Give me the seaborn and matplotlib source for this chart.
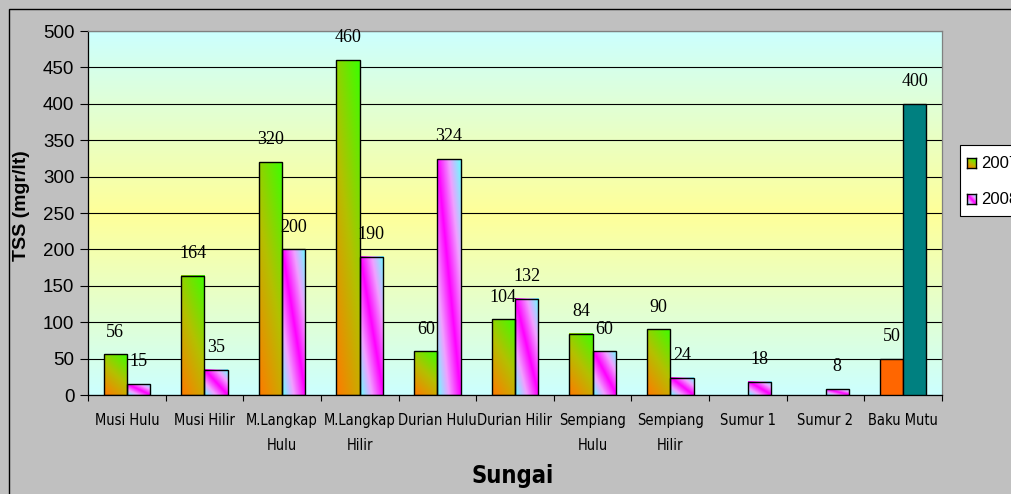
import numpy as np
import pandas as pd
import matplotlib
matplotlib.use("Agg")
import matplotlib.pyplot as plt
import seaborn as sns
from matplotlib import font_manager
from matplotlib.colors import LinearSegmentedColormap
from matplotlib.patches import Rectangle

# ---- data -------------------------------------------------------------
categories = ["Musi Hulu", "Musi Hilir", "M.Langkap\nHulu", "M.Langkap\nHilir",
              "Durian Hulu", "Durian Hilir", "Sempiang\nHulu", "Sempiang\nHilir",
              "Sumur 1", "Sumur 2", "Baku Mutu"]
tss_2007 = [56, 164, 320, 460, 60, 104, 84, 90, np.nan, np.nan, 50]
tss_2008 = [15, 35, 200, 190, 324, 132, 60, 24, 18, 8, 400]
years = ["2007", "2008"]
y_ticks = list(range(0, 501, 50))
standard_label = "Baku Mutu"

df = pd.DataFrame({
    "Sungai": categories * 2,
    "Tahun": [years[0]] * len(categories) + [years[1]] * len(categories),
    "TSS": tss_2007 + tss_2008,
})

# ---- style ------------------------------------------------------------
sns.set_style("white")
plt.rcParams["font.family"] = ["Liberation Sans", "DejaVu Sans"]
plt.rcParams["text.color"] = "black"
plt.rcParams["xtick.color"] = "black"
plt.rcParams["ytick.color"] = "black"
plt.rcParams["xtick.labelcolor"] = "black"
plt.rcParams["ytick.labelcolor"] = "black"
SERIF = ["Liberation Serif", "DejaVu Serif"]

# pick a condensed sans face for the category labels
installed = {(f.name, f.stretch) for f in font_manager.fontManager.ttflist}
names = {n for n, _ in installed}
if "Liberation Sans Narrow" in names:
    NARROW = dict(family=["Liberation Sans Narrow", "DejaVu Sans"])
    tick_fs, title_fs = 11.5, 18.5
elif any(n == "DejaVu Sans" and s in ("condensed", "semi-condensed", 75, 87.5)
         for n, s in installed):
    NARROW = dict(family=["DejaVu Sans"], fontstretch="condensed")
    tick_fs, title_fs = 10.5, 17
else:
    NARROW = dict(family=["Liberation Sans", "DejaVu Sans"])
    tick_fs, title_fs = 9.8, 15.5

W, H = 1012, 494
fig = plt.figure(figsize=(W / 100, H / 100), dpi=100, facecolor="#c0c0c0")
ax = fig.add_axes([88 / W, 1 - 395 / H, (942 - 88) / W, (395 - 31) / H])

sns.barplot(data=df, x="Sungai", y="TSS", hue="Tahun", order=categories,
            hue_order=years, width=0.6, ax=ax, legend=False,
            edgecolor="black", linewidth=1.0, saturation=1)

# plot-area background: cyan -> pale yellow -> cyan
bg_cmap = LinearSegmentedColormap.from_list("bg", ["#ccffff", "#ffff99", "#ccffff"])
ax.imshow(np.linspace(0, 1, 256).reshape(-1, 1), cmap=bg_cmap, origin="lower",
          extent=[0, 1, 0, 1], transform=ax.transAxes, aspect="auto", zorder=0)

# bar fill gradients
warm = LinearSegmentedColormap.from_list("warm", ["#ff7a00", "#b4c000", "#3cff00"])
pink = LinearSegmentedColormap.from_list("pink", ["#ff00ff", "#f0a0ff", "#66ffff"])


def gradient_rgb(kind, nx=40, ny=200):
    u = np.linspace(0, 1, nx)[None, :]
    v = np.linspace(0, 1, ny)[:, None]
    if kind == 0:
        t = 0.35 * u + 0.65 * v
        return warm(t)
    d = np.clip(np.abs(u + v - 1.0), 0, 1)
    return pink(d)


solid = {0: "#ff6600", 1: "#008080"}
std_idx = categories.index(standard_label)

for k, container in enumerate(ax.containers):
    for bar in container:
        h = bar.get_height()
        if h is None or np.isnan(h) or h <= 0:
            continue
        x0, w = bar.get_x(), bar.get_width()
        cx = x0 + w / 2
        cat = int(round(cx))
        bar.set_zorder(3)
        if cat == std_idx:
            bar.set_facecolor(solid[k])
        else:
            bar.set_facecolor("none")
            ax.imshow(gradient_rgb(k), origin="lower", extent=[x0, x0 + w, 0, h],
                      aspect="auto", zorder=2, interpolation="bilinear")
        ax.annotate(f"{int(h)}", (cx, h), xytext=(0, 16), textcoords="offset points",
                    ha="center", va="center", fontsize=13, family=SERIF,
                    color="black", annotation_clip=False, zorder=5)

# axes, grid, ticks
ax.set_xlim(-0.5, len(categories) - 0.5)
ax.set_ylim(0, 500)
ax.set_axisbelow(True)
ax.yaxis.grid(True, color="black", linewidth=0.8)
ax.xaxis.grid(False)
ax.set_yticks(y_ticks)
ax.set_yticklabels([str(t) for t in y_ticks], fontsize=13.5)
ax.tick_params(axis="y", direction="out", length=5.8, width=0.8, color="black", pad=4, left=True)
ax.set_xticks(range(len(categories)))
ax.set_xticklabels(categories, fontsize=tick_fs, linespacing=1.8, **NARROW)
ax.tick_params(axis="x", which="major", length=0, pad=13, bottom=True)
ax.set_xticks(np.arange(-0.5, len(categories), 1), minor=True)
ax.tick_params(axis="x", which="minor", direction="out", length=4, width=0.8, color="black", bottom=True)
ax.set_xlabel("")
ax.set_ylabel("")
for side in ("left", "bottom"):
    ax.spines[side].set_color("black")
    ax.spines[side].set_linewidth(0.9)
for side in ("top", "right"):
    ax.spines[side].set_color("#808080")
    ax.spines[side].set_linewidth(0.9)
    ax.spines[side].set_visible(True)

# axis titles
fig.text(22 / W, 1 - 206 / H, "TSS (mgr/lt)", rotation=90, ha="center", va="center",
         fontsize=14, fontweight="bold")
fig.text(513 / W, 1 - 476 / H, "Sungai", ha="center", va="center",
         fontsize=title_fs, fontweight="bold", **NARROW)

# legend box with gradient swatches
fig.patches.append(Rectangle((960 / W, 1 - 216 / H), 80 / W, 71 / H, transform=fig.transFigure,
                             facecolor="white", edgecolor="black", linewidth=0.8, zorder=10))
for k, (yr, yc) in enumerate(zip(years, [163, 199])):
    sw = fig.add_axes([967 / W, 1 - (yc + 5) / H, 9 / W, 10 / H], zorder=11)
    sw.imshow(gradient_rgb(k, 20, 20), origin="lower", aspect="auto", extent=[0, 1, 0, 1])
    sw.set_xticks([])
    sw.set_yticks([])
    for s in sw.spines.values():
        s.set_color("black")
        s.set_linewidth(1.0)
    fig.text(981 / W, 1 - yc / H, yr, ha="left", va="center", fontsize=12, zorder=12)

# outer chart frame
fig.patches.append(Rectangle((8.5 / W, -0.05), 1.2, (494 - 8.5) / H + 0.05,
                             transform=fig.transFigure, fill=False,
                             edgecolor="black", linewidth=1.0, zorder=9))

fig.savefig("out.png", dpi=100, facecolor=fig.get_facecolor())
